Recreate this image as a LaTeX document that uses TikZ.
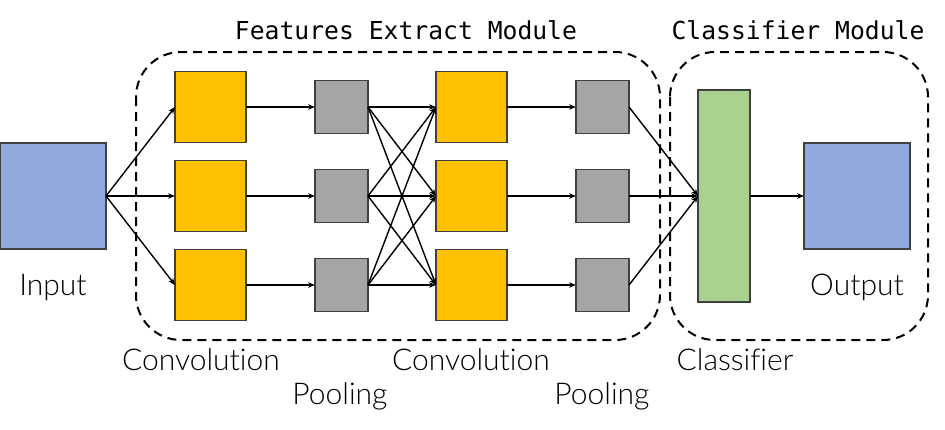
\documentclass[tikz,border=0pt]{standalone}
\usepackage{fontspec}
\usetikzlibrary{arrows.meta}
\newfontfamily\labfont{Lato}[UprightFont=* Light, Ligatures=NoCommon]
\newfontfamily\titfont{DejaVu Sans Mono}
\definecolor{convc}{HTML}{FFC000}
\definecolor{poolc}{HTML}{A5A5A5}
\definecolor{ioc}{HTML}{8FAADC}
\definecolor{clsc}{HTML}{A9D18E}
\definecolor{edgec}{HTML}{404040}
\tikzset{
  blk/.style={draw=edgec, line width=1.1pt, inner sep=0pt, outer sep=0pt},
  convbox/.style={blk, fill=convc, minimum width=71pt, minimum height=71pt},
  poolbox/.style={blk, fill=poolc, minimum width=53pt, minimum height=53pt},
  iobox/.style={blk, fill=ioc, minimum width=106pt, minimum height=106pt},
  clsbox/.style={blk, fill=clsc, minimum width=52pt, minimum height=212pt},
  arr/.style={line width=1.4pt, -{Stealth[length=7pt,width=5.5pt]}},
  modbox/.style={dashed, line width=2pt, dash pattern=on 9pt off 6pt, rounded corners=45pt},
  lab/.style={font=\labfont\fontsize{30}{30}\selectfont, anchor=base, inner sep=0pt},
  tit/.style={font=\titfont\fontsize{24.7}{25}\selectfont, anchor=base, inner sep=0pt}
}
\begin{document}
\begin{tikzpicture}[x=1pt,y=-1pt]
\useasboundingbox (0,0) rectangle (945,429);
% module frames
\draw[modbox] (136,52) rectangle (660,340);
\draw[modbox] (670,52) rectangle (928,340);
\node[tit] (t1) at (406,39) {Features Extract Module};
\node[tit] (t2) at (798,39) {Classifier Module};
% blocks
\node[iobox] (in) at (53,196) {};
\foreach \i/\y in {1/107,2/196,3/285}{
  \node[convbox] (ca\i) at (210.5,\y) {};
  \node[poolbox] (pa\i) at (341.5,\y) {};
  \node[convbox] (cb\i) at (471.5,\y) {};
  \node[poolbox] (pb\i) at (602.5,\y) {};
}
\node[clsbox] (cls) at (724,196) {};
\node[iobox] (out) at (857,196) {};
% connectors
\foreach \i in {1,2,3}{
  \draw[arr] (in.east) -- (ca\i.west);
  \draw[arr] (ca\i.east) -- (pa\i.west);
  \foreach \j in {1,2,3}{
    \draw[arr] (pa\i.east) -- (cb\j.west);
  }
  \draw[arr] (cb\i.east) -- (pb\i.west);
  \draw[arr] (pb\i.east) -- (cls.west);
}
\draw[arr] (cls.east) -- (out.west);
% labels
\node[lab] (l1) at (53,295) {Input};
\node[lab] (l2) at (201,370) {Convolution};
\node[lab] (l3) at (340,404) {Pooling};
\node[lab] (l4) at (471,370) {Convolution};
\node[lab] (l5) at (602,404) {Pooling};
\node[lab] (l6) at (735,370) {Classifier};
\node[lab] (l7) at (857,295) {Output};
\end{tikzpicture}
\end{document}
